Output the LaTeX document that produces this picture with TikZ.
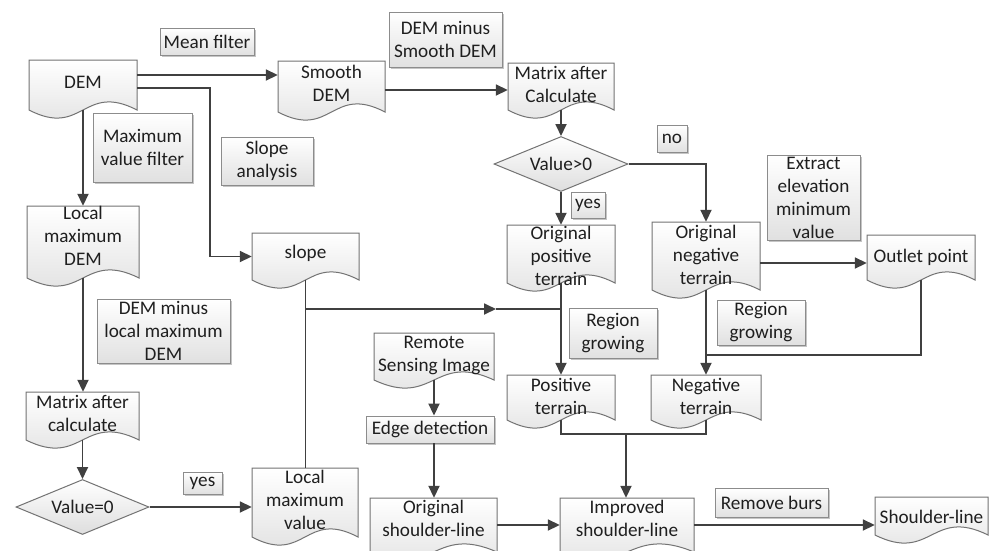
\documentclass[tikz,border=0pt]{standalone}
\usepackage{fontspec}
\setmainfont{Carlito}
\usetikzlibrary{arrows.meta,shapes.geometric,shadows}
\newcommand{\mytext}{\fontsize{19.2}{23}\selectfont}
\tikzset{
 conn/.style={draw=black!75, line width=1.8pt},
 arr/.style={conn, -{Triangle[length=12pt,width=11pt]}},
 docshape/.style={draw=black!55, line width=1pt, top color=white, bottom color=black!13},
 lblbox/.style={draw=black!45, line width=0.9pt, top color=white, bottom color=black!12,
   drop shadow={shadow xshift=1.5pt, shadow yshift=-1.5pt, fill=black!45, opacity=0.5},
   inner sep=0pt, align=center, font=\mytext, text=black!88},
 txt/.style={align=center, inner sep=0pt, font=\mytext, text=black!88},
 decision/.style={diamond, draw=black!55, line width=1pt, top color=white, bottom color=black!13,
   inner sep=0pt, aspect=2.4, font=\mytext, text=black!88},
}
% name, x1, ytop, x2, ybottom(left end), text y, text
\newcommand{\docnode}[7]{%
 \path[docshape] (#2,#3) -- (#4,#3) -- (#4,#5)
   .. controls ({(#2+#4)/2},{#5-28}) and ({(#2+#4)/2},{#5+28}) .. (#2,#5) -- cycle;
 \node[inner sep=0pt, minimum width={#4-#2}, minimum height={#5-#3}] (#1) at ({(#2+#4)/2},{(#3+#5)/2}) {};
 \node[txt] (#1-t) at ({(#2+#4)/2},#6) {#7};
}
\newcommand{\lblnode}[6]{%
 \node[lblbox, minimum width={#4-#2}, minimum height={#5-#3}] (#1) at ({(#2+#4)/2},{(#3+#5)/2}) {#6};
}
\begin{document}
\begin{tikzpicture}[x=1pt,y=-1pt]
\fill[white] (0,0) rectangle (997,550);
\useasboundingbox (0,0) rectangle (997,550);

% labels
\lblnode{meanf}{160}{28}{254}{55}{Mean filter}
\lblnode{maxf}{93}{113}{192}{182}{Maximum\\value filter}
\lblnode{slopea}{221}{137}{313}{185}{Slope\\analysis}
\lblnode{minus1}{389}{12}{502}{67}{DEM minus\\Smooth DEM}
\lblnode{no}{657}{125}{687}{152}{no}
\lblnode{yes1}{571}{192}{605}{218}{yes}
\lblnode{extract}{767}{155}{860}{240}{Extract\\elevation\\minimum\\value}
\lblnode{rg1}{569}{308}{657}{358}{Region\\growing}
\lblnode{rg2}{717}{300}{805}{345}{Region\\growing}
\lblnode{minus2}{97}{299}{230}{363}{DEM minus\\local maximum\\DEM}
\lblnode{yes2}{183}{472}{222}{494}{yes}
\lblnode{burs}{715}{488}{828}{517}{Remove burs}
\lblnode{ED}{366}{416}{494}{443}{Edge detection}

% documents
\docnode{DEM}{29}{60}{137}{110}{82}{DEM}
\docnode{Smooth}{278}{61}{385}{112}{83}{Smooth\\DEM}
\docnode{MAC1}{508}{63}{614}{110}{84}{Matrix after\\Calculate}
\docnode{slope}{252}{233}{359}{280}{253}{slope}
\docnode{LMD}{27}{206}{139}{278}{236}{Local\\maximum\\DEM}
\docnode{MAC2}{26}{392}{139}{440}{413}{Matrix after\\calculate}
\docnode{LMV}{252}{468}{358}{537}{500}{Local\\maximum\\value}
\docnode{OPT}{507}{225}{615}{283}{256}{Original\\positive\\terrain}
\docnode{ONT}{652}{222}{760}{290}{255}{Original\\negative\\terrain}
\docnode{OP}{867}{235}{975}{280}{257}{Outlet point}
\docnode{PT}{507}{375}{615}{420}{396}{Positive\\terrain}
\docnode{NT}{651}{375}{761}{420}{396}{Negative\\terrain}
\docnode{RS}{374}{333}{494}{380}{355}{Remote\\Sensing Image}
\docnode{OSL}{370}{498}{497}{552}{518}{Original\\shoulder-line}
\docnode{IS}{560}{498}{694}{552}{518}{Improved\\shoulder-line}
\docnode{SL}{875}{497}{988}{535}{517}{Shoulder-line}

% decisions
\node[decision, minimum width=134, minimum height=55] (d1) at (561,164) {Value>0};
\node[decision, minimum width=133, minimum height=55] (d0) at (82.5,507) {Value=0};

% connectors
\coordinate (p1) at ([yshift=10pt]DEM.east);
\draw[arr] (p1) -- (p1 -| Smooth.west);
\coordinate (p2) at ([yshift=-3pt]DEM.east);
\coordinate (b1) at (210,256.5);
\draw[arr] (p2) -| (b1) -- (slope.west);
\draw[arr] (DEM.south) -- (DEM.south |- LMD.north);
\draw[arr] (LMD.south) -- (LMD.south |- MAC2.north);
\draw[arr] (MAC2.south) -- (MAC2.south |- d0.north);
\draw[arr] (d0.east) -- (d0.east -| LMV.west);
\draw[conn] (slope.south) -- (slope.south |- LMV.north);
\coordinate (j1) at (305.5,309);
\coordinate (j1a) at (496,309);
\coordinate (j2) at (561,309);
\draw[arr] (j1) -- (j1a);
\draw[conn] (j1a) -- (j2);
\draw[arr] ([yshift=-3.5pt]Smooth.east) -- ([yshift=-3.5pt]MAC1.west);
\draw[arr] (MAC1.south) -- (MAC1.south |- d1.north);
\draw[arr] (d1.south) -- (d1.south |- OPT.north);
\draw[arr] (d1.east) -| (ONT.north);
\draw[arr] (OPT.south) -- (PT.north);
\coordinate (p13) at ([yshift=-7pt]ONT.east);
\draw[arr] (p13) -- (p13 -| OP.west);
\draw[arr] (ONT.south) -- (ONT.south |- NT.north);
\coordinate (j3) at (706,355);
\draw[conn] (OP.south) |- (j3);
\coordinate (j4) at (626,434);
\draw[conn] (PT.south) -- (PT.south |- j4) -- (j4 -| NT.south) -- (NT.south);
\draw[arr] (j4) -- (j4 |- IS.north);
\draw[arr] (RS.south) -- (RS.south |- ED.north);
\draw[arr] (RS.south |- ED.south) -- (RS.south |- OSL.north);
\draw[arr] (OSL.east) -- (IS.west);
\draw[arr] (IS.east) -- (IS.east -| SL.west);
\end{tikzpicture}
\end{document}
